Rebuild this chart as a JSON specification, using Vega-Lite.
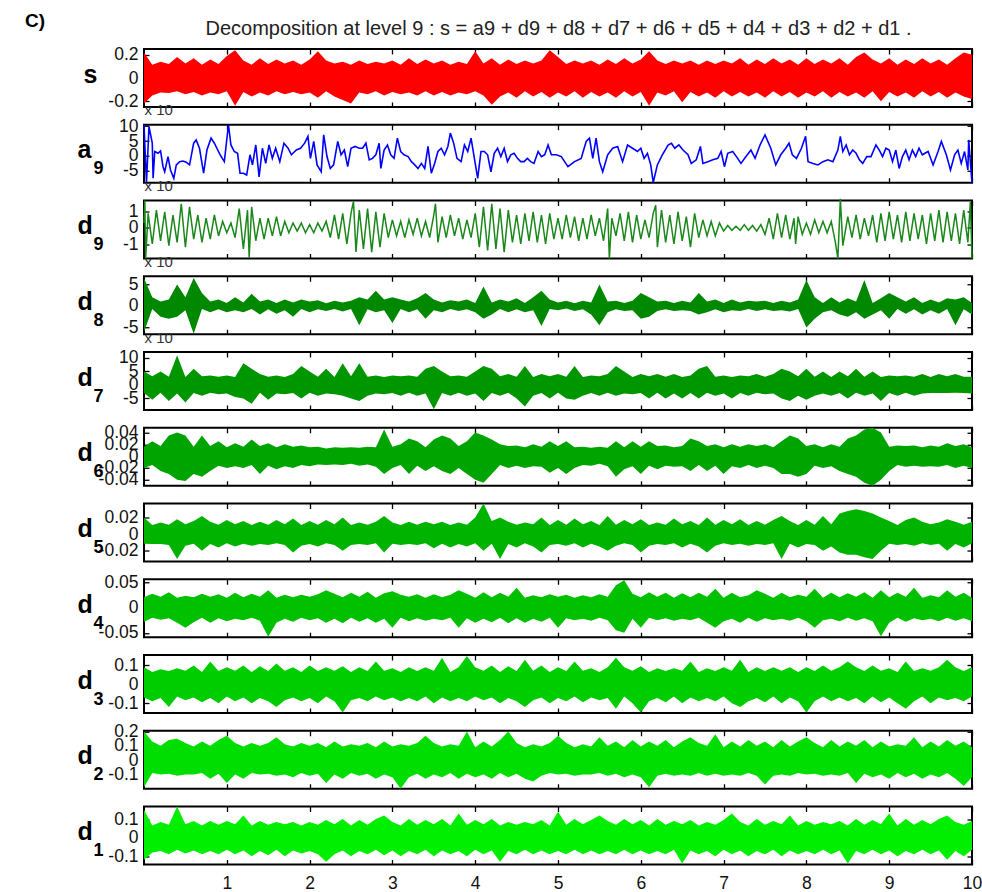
{
"$schema":"https://vega.github.io/schema/vega-lite/v6.json",
"background":"white",
"padding":{"left":24,"top":11,"right":5,"bottom":2},
"spacing":17.75,
"bounds":"flush",
"config":{
 "view":{"stroke":"#000","strokeWidth":2},
 "axis":{"domain":false,"grid":false,"minExtent":0,"tickSize":-5,"tickColor":"#000","tickWidth":1.3,"labelFont":"Liberation Sans","labelFontSize":17.5,"labelColor":"#111","labelPadding":11,"labelOverlap":false,"labelFlush":false,"titleFont":"Liberation Sans","titleColor":"#000"},
 "axisLeft":{"titleAngle":0,"titleAlign":"left","titleBaseline":"alphabetic","titleFontSize":25,"titleFontWeight":"bold","titleX":-67,"titleY":33,"labelBaseline":"middle"},
 "axisRight":{"labels":false,"titleAngle":0,"titleAlign":"left","titleBaseline":"alphabetic","titleFontSize":18,"titleFontWeight":"bold","titleX":-879,"titleY":49},
 "axisTop":{"labels":false,"titleAngle":0,"titleAlign":"left","titleBaseline":"alphabetic","titleFontSize":15,"titleFontWeight":"normal","titleColor":"#333","titleX":0,"titleY":-10},
 "axisBottom":{"labelPadding":15}
},
"datasets":{
"dense":[
{"t":0,"sh":0.22,"sl":-0.22,"h8":6.5,"l8":-6,"h7":5,"l7":-3,"h6":0.016,"l6":-0.02,"h5":0.02,"l5":-0.0115,"h4":0.021,"l4":-0.028,"h3":0.09,"l3":-0.07,"h2":0.2,"l2":-0.19,"h1":0.15,"l1":-0.12},
{"t":0.1,"sh":0.115,"sl":-0.15,"h8":2,"l8":-0.7,"h7":3.2,"l7":-5.5,"h6":0.025,"l6":-0.015,"h5":0.011,"l5":-0.012,"h4":0.028,"l4":-0.02,"h3":0.065,"l3":-0.09,"h2":0.13,"l2":-0.09,"h1":0.065,"l1":-0.08},
{"t":0.2,"sh":0.14,"sl":-0.125,"h8":1,"l8":-2.5,"h7":5,"l7":-2.9,"h6":0.017,"l6":-0.025,"h5":0.014,"l5":-0.012,"h4":0.022,"l4":-0.024,"h3":0.08,"l3":-0.072,"h2":0.1,"l2":-0.1,"h1":0.085,"l1":-0.072},
{"t":0.3,"sh":0.12,"sl":-0.13,"h8":1.5,"l8":-3,"h7":3,"l7":-6,"h6":0.035,"l6":-0.03,"h5":0.0115,"l5":-0.013,"h4":0.031,"l4":-0.021,"h3":0.07,"l3":-0.12,"h2":0.14,"l2":-0.095,"h1":0.07,"l1":-0.09},
{"t":0.4,"sh":0.18,"sl":-0.115,"h8":5,"l8":-2.5,"h7":11,"l7":-3.2,"h6":0.04,"l6":-0.04,"h5":0.018,"l5":-0.03,"h4":0.02,"l4":-0.03,"h3":0.085,"l3":-0.065,"h2":0.15,"l2":-0.11,"h1":0.168,"l1":-0.065},
{"t":0.5,"sh":0.125,"sl":-0.14,"h8":2,"l8":-1,"h7":2.9,"l7":-6.5,"h6":0.035,"l6":-0.042,"h5":0.012,"l5":-0.014,"h4":0.024,"l4":-0.04,"h3":0.072,"l3":-0.085,"h2":0.12,"l2":-0.1,"h1":0.072,"l1":-0.085},
{"t":0.6,"sh":0.17,"sl":-0.12,"h8":6.5,"l8":-6.5,"h7":6,"l7":-3,"h6":0.016,"l6":-0.03,"h5":0.016,"l5":-0.0115,"h4":0.021,"l4":-0.029,"h3":0.1,"l3":-0.07,"h2":0.095,"l2":-0.1,"h1":0.09,"l1":-0.07},
{"t":0.7,"sh":0.115,"sl":-0.15,"h8":3,"l8":-0.7,"h7":3.2,"l7":-4,"h6":0.035,"l6":-0.035,"h5":0.022,"l5":-0.02,"h4":0.028,"l4":-0.02,"h3":0.065,"l3":-0.095,"h2":0.13,"l2":-0.09,"h1":0.065,"l1":-0.09},
{"t":0.8,"sh":0.16,"sl":-0.125,"h8":1,"l8":-1.5,"h7":3.5,"l7":-2.9,"h6":0.017,"l6":-0.025,"h5":0.015,"l5":-0.012,"h4":0.022,"l4":-0.03,"h3":0.12,"l3":-0.072,"h2":0.1,"l2":-0.13,"h1":0.09,"l1":-0.072},
{"t":0.9,"sh":0.12,"sl":-0.14,"h8":1.5,"l8":-0.8,"h7":3,"l7":-3.5,"h6":0.025,"l6":-0.016,"h5":0.0115,"l5":-0.016,"h4":0.027,"l4":-0.021,"h3":0.07,"l3":-0.1,"h2":0.14,"l2":-0.095,"h1":0.07,"l1":-0.09},
{"t":1,"sh":0.19,"sl":-0.115,"h8":0.7,"l8":-1.5,"h7":3.5,"l7":-3.2,"h6":0.015,"l6":-0.02,"h5":0.017,"l5":-0.011,"h4":0.02,"l4":-0.027,"h3":0.09,"l3":-0.065,"h2":0.17,"l2":-0.16,"h1":0.09,"l1":-0.065},
{"t":1.1,"sh":0.24,"sl":-0.24,"h8":2,"l8":-1,"h7":2.9,"l7":-4.5,"h6":0.022,"l6":-0.017,"h5":0.012,"l5":-0.015,"h4":0.03,"l4":-0.022,"h3":0.072,"l3":-0.09,"h2":0.12,"l2":-0.1,"h1":0.072,"l1":-0.09},
{"t":1.2,"sh":0.15,"sl":-0.12,"h8":0.8,"l8":-1.5,"h7":8,"l7":-5,"h6":0.016,"l6":-0.02,"h5":0.016,"l5":-0.0115,"h4":0.021,"l4":-0.025,"h3":0.1,"l3":-0.07,"h2":0.095,"l2":-0.13,"h1":0.12,"l1":-0.07},
{"t":1.3,"sh":0.115,"sl":-0.16,"h8":2.8,"l8":-0.7,"h7":6,"l7":-7,"h6":0.028,"l6":-0.015,"h5":0.011,"l5":-0.014,"h4":0.028,"l4":-0.02,"h3":0.065,"l3":-0.1,"h2":0.12,"l2":-0.09,"h1":0.065,"l1":-0.1},
{"t":1.4,"sh":0.17,"sl":-0.125,"h8":1,"l8":-2,"h7":4,"l7":-2.9,"h6":0.017,"l6":-0.03,"h5":0.015,"l5":-0.012,"h4":0.022,"l4":-0.026,"h3":0.095,"l3":-0.072,"h2":0.1,"l2":-0.1,"h1":0.09,"l1":-0.072},
{"t":1.5,"sh":0.12,"sl":-0.15,"h8":1.5,"l8":-0.8,"h7":3,"l7":-5.5,"h6":0.022,"l6":-0.016,"h5":0.0115,"l5":-0.013,"h4":0.035,"l4":-0.058,"h3":0.07,"l3":-0.09,"h2":0.12,"l2":-0.095,"h1":0.07,"l1":-0.095},
{"t":1.6,"sh":0.16,"sl":-0.115,"h8":0.7,"l8":-1.8,"h7":3.5,"l7":-3.2,"h6":0.015,"l6":-0.022,"h5":0.017,"l5":-0.011,"h4":0.02,"l4":-0.03,"h3":0.11,"l3":-0.12,"h2":0.16,"l2":-0.11,"h1":0.085,"l1":-0.065},
{"t":1.7,"sh":0.125,"sl":-0.14,"h8":1.5,"l8":-1,"h7":2.9,"l7":-3.5,"h6":0.02,"l6":-0.017,"h5":0.012,"l5":-0.013,"h4":0.026,"l4":-0.022,"h3":0.072,"l3":-0.085,"h2":0.11,"l2":-0.1,"h1":0.072,"l1":-0.1},
{"t":1.8,"sh":0.15,"sl":-0.12,"h8":0.8,"l8":-2.5,"h7":4,"l7":-3,"h6":0.016,"l6":-0.02,"h5":0.019,"l5":-0.022,"h4":0.021,"l4":-0.028,"h3":0.09,"l3":-0.07,"h2":0.095,"l2":-0.12,"h1":0.085,"l1":-0.07},
{"t":1.9,"sh":0.115,"sl":-0.14,"h8":1.5,"l8":-0.7,"h7":7,"l7":-5,"h6":0.018,"l6":-0.015,"h5":0.011,"l5":-0.014,"h4":0.026,"l4":-0.02,"h3":0.065,"l3":-0.09,"h2":0.12,"l2":-0.09,"h1":0.065,"l1":-0.085},
{"t":2,"sh":0.16,"sl":-0.125,"h8":1,"l8":-1.5,"h7":5,"l7":-2.9,"h6":0.015,"l6":-0.017,"h5":0.016,"l5":-0.012,"h4":0.022,"l4":-0.025,"h3":0.1,"l3":-0.072,"h2":0.1,"l2":-0.11,"h1":0.085,"l1":-0.072},
{"t":2.1,"sh":0.23,"sl":-0.17,"h8":1.3,"l8":-0.8,"h7":3,"l7":-4,"h6":0.016,"l6":-0.014,"h5":0.0115,"l5":-0.015,"h4":0.027,"l4":-0.021,"h3":0.07,"l3":-0.1,"h2":0.12,"l2":-0.095,"h1":0.07,"l1":-0.09},
{"t":2.2,"sh":0.15,"sl":-0.115,"h8":0.6,"l8":-1.2,"h7":6,"l7":-3.2,"h6":0.013,"l6":-0.015,"h5":0.017,"l5":-0.011,"h4":0.035,"l4":-0.03,"h3":0.09,"l3":-0.065,"h2":0.09,"l2":-0.16,"h1":0.095,"l1":-0.13},
{"t":2.3,"sh":0.125,"sl":-0.16,"h8":1.2,"l8":-0.7,"h7":2.9,"l7":-3.5,"h6":0.015,"l6":-0.014,"h5":0.012,"l5":-0.013,"h4":0.028,"l4":-0.022,"h3":0.072,"l3":-0.09,"h2":0.13,"l2":-0.1,"h1":0.072,"l1":-0.09},
{"t":2.4,"sh":0.14,"sl":-0.19,"h8":0.8,"l8":-1.3,"h7":8,"l7":-4,"h6":0.014,"l6":-0.015,"h5":0.02,"l5":-0.02,"h4":0.021,"l4":-0.031,"h3":0.095,"l3":-0.15,"h2":0.095,"l2":-0.13,"h1":0.1,"l1":-0.07},
{"t":2.5,"sh":0.115,"sl":-0.22,"h8":1.2,"l8":-0.7,"h7":3.2,"l7":-5,"h6":0.015,"l6":-0.013,"h5":0.011,"l5":-0.013,"h4":0.03,"l4":-0.02,"h3":0.065,"l3":-0.085,"h2":0.11,"l2":-0.09,"h1":0.065,"l1":-0.1},
{"t":2.6,"sh":0.15,"sl":-0.125,"h8":2,"l8":-4.5,"h7":8,"l7":-6,"h6":0.014,"l6":-0.016,"h5":0.014,"l5":-0.012,"h4":0.022,"l4":-0.028,"h3":0.09,"l3":-0.072,"h2":0.1,"l2":-0.11,"h1":0.095,"l1":-0.072},
{"t":2.7,"sh":0.12,"sl":-0.14,"h8":1.5,"l8":-0.8,"h7":3,"l7":-4,"h6":0.016,"l6":-0.014,"h5":0.0115,"l5":-0.013,"h4":0.032,"l4":-0.021,"h3":0.07,"l3":-0.09,"h2":0.12,"l2":-0.095,"h1":0.07,"l1":-0.09},
{"t":2.8,"sh":0.14,"sl":-0.115,"h8":3.5,"l8":-1.5,"h7":3.5,"l7":-3.2,"h6":0.015,"l6":-0.018,"h5":0.015,"l5":-0.011,"h4":0.02,"l4":-0.03,"h3":0.12,"l3":-0.065,"h2":0.09,"l2":-0.13,"h1":0.1,"l1":-0.065},
{"t":2.9,"sh":0.125,"sl":-0.15,"h8":1.5,"l8":-1,"h7":2.9,"l7":-3.5,"h6":0.045,"l6":-0.03,"h5":0.022,"l5":-0.022,"h4":0.029,"l4":-0.022,"h3":0.072,"l3":-0.085,"h2":0.13,"l2":-0.1,"h1":0.12,"l1":-0.095},
{"t":3,"sh":0.15,"sl":-0.12,"h8":2,"l8":-4,"h7":3.5,"l7":-3,"h6":0.016,"l6":-0.02,"h5":0.014,"l5":-0.0115,"h4":0.033,"l4":-0.04,"h3":0.085,"l3":-0.07,"h2":0.095,"l2":-0.12,"h1":0.085,"l1":-0.07},
{"t":3.1,"sh":0.115,"sl":-0.14,"h8":1.5,"l8":-0.7,"h7":3.2,"l7":-4,"h6":0.02,"l6":-0.015,"h5":0.011,"l5":-0.013,"h4":0.026,"l4":-0.02,"h3":0.065,"l3":-0.09,"h2":0.11,"l2":-0.2,"h1":0.065,"l1":-0.1},
{"t":3.2,"sh":0.17,"sl":-0.125,"h8":1,"l8":-1.5,"h7":3.5,"l7":-2.9,"h6":0.03,"l6":-0.03,"h5":0.015,"l5":-0.012,"h4":0.022,"l4":-0.027,"h3":0.09,"l3":-0.072,"h2":0.1,"l2":-0.12,"h1":0.1,"l1":-0.072},
{"t":3.3,"sh":0.12,"sl":-0.15,"h8":1.8,"l8":-0.8,"h7":3,"l7":-4,"h6":0.025,"l6":-0.016,"h5":0.0115,"l5":-0.013,"h4":0.027,"l4":-0.021,"h3":0.07,"l3":-0.09,"h2":0.12,"l2":-0.095,"h1":0.07,"l1":-0.09},
{"t":3.4,"sh":0.16,"sl":-0.115,"h8":3,"l8":-3,"h7":6,"l7":-3.2,"h6":0.015,"l6":-0.025,"h5":0.015,"l5":-0.011,"h4":0.02,"l4":-0.026,"h3":0.09,"l3":-0.065,"h2":0.17,"l2":-0.13,"h1":0.095,"l1":-0.065},
{"t":3.5,"sh":0.125,"sl":-0.15,"h8":1.5,"l8":-1,"h7":7,"l7":-9,"h6":0.028,"l6":-0.017,"h5":0.012,"l5":-0.017,"h4":0.027,"l4":-0.022,"h3":0.072,"l3":-0.1,"h2":0.12,"l2":-0.1,"h1":0.072,"l1":-0.1},
{"t":3.6,"sh":0.15,"sl":-0.12,"h8":0.8,"l8":-1.5,"h7":5,"l7":-3,"h6":0.035,"l6":-0.025,"h5":0.015,"l5":-0.0115,"h4":0.021,"l4":-0.025,"h3":0.14,"l3":-0.07,"h2":0.095,"l2":-0.12,"h1":0.1,"l1":-0.07},
{"t":3.7,"sh":0.115,"sl":-0.15,"h8":1.3,"l8":-0.7,"h7":3.2,"l7":-4,"h6":0.03,"l6":-0.03,"h5":0.011,"l5":-0.016,"h4":0.026,"l4":-0.02,"h3":0.065,"l3":-0.09,"h2":0.11,"l2":-0.09,"h1":0.065,"l1":-0.09},
{"t":3.8,"sh":0.14,"sl":-0.125,"h8":1,"l8":-1.2,"h7":3.5,"l7":-2.9,"h6":0.017,"l6":-0.02,"h5":0.014,"l5":-0.012,"h4":0.035,"l4":-0.04,"h3":0.09,"l3":-0.072,"h2":0.1,"l2":-0.13,"h1":0.13,"l1":-0.072},
{"t":3.9,"sh":0.12,"sl":-0.14,"h8":1.5,"l8":-0.8,"h7":3,"l7":-4,"h6":0.025,"l6":-0.03,"h5":0.0115,"l5":-0.015,"h4":0.028,"l4":-0.021,"h3":0.15,"l3":-0.09,"h2":0.2,"l2":-0.095,"h1":0.07,"l1":-0.1},
{"t":4,"sh":0.23,"sl":-0.115,"h8":0.7,"l8":-1.5,"h7":5,"l7":-3.2,"h6":0.04,"l6":-0.04,"h5":0.02,"l5":-0.011,"h4":0.02,"l4":-0.03,"h3":0.09,"l3":-0.065,"h2":0.09,"l2":-0.12,"h1":0.095,"l1":-0.065},
{"t":4.1,"sh":0.125,"sl":-0.15,"h8":4.5,"l8":-3,"h7":7,"l7":-6,"h6":0.035,"l6":-0.045,"h5":0.037,"l5":-0.02,"h4":0.031,"l4":-0.022,"h3":0.072,"l3":-0.085,"h2":0.13,"l2":-0.1,"h1":0.072,"l1":-0.09},
{"t":4.2,"sh":0.17,"sl":-0.23,"h8":0.8,"l8":-2,"h7":6,"l7":-3,"h6":0.028,"l6":-0.03,"h5":0.016,"l5":-0.0115,"h4":0.021,"l4":-0.029,"h3":0.1,"l3":-0.07,"h2":0.095,"l2":-0.13,"h1":0.1,"l1":-0.07},
{"t":4.3,"sh":0.115,"sl":-0.16,"h8":1.5,"l8":-0.7,"h7":3.2,"l7":-4,"h6":0.02,"l6":-0.015,"h5":0.02,"l5":-0.03,"h4":0.03,"l4":-0.02,"h3":0.065,"l3":-0.1,"h2":0.14,"l2":-0.09,"h1":0.065,"l1":-0.13},
{"t":4.4,"sh":0.16,"sl":-0.125,"h8":1,"l8":-1.5,"h7":4,"l7":-2.9,"h6":0.017,"l6":-0.02,"h5":0.015,"l5":-0.012,"h4":0.022,"l4":-0.031,"h3":0.095,"l3":-0.072,"h2":0.2,"l2":-0.12,"h1":0.085,"l1":-0.072},
{"t":4.5,"sh":0.12,"sl":-0.17,"h8":1.8,"l8":-0.8,"h7":3,"l7":-5,"h6":0.018,"l6":-0.016,"h5":0.0115,"l5":-0.016,"h4":0.04,"l4":-0.021,"h3":0.07,"l3":-0.09,"h2":0.12,"l2":-0.095,"h1":0.07,"l1":-0.09},
{"t":4.6,"sh":0.15,"sl":-0.115,"h8":0.7,"l8":-1.5,"h7":7,"l7":-8,"h6":0.015,"l6":-0.02,"h5":0.014,"l5":-0.011,"h4":0.02,"l4":-0.03,"h3":0.13,"l3":-0.12,"h2":0.09,"l2":-0.13,"h1":0.085,"l1":-0.065},
{"t":4.7,"sh":0.125,"sl":-0.16,"h8":2,"l8":-1,"h7":2.9,"l7":-4,"h6":0.02,"l6":-0.017,"h5":0.012,"l5":-0.015,"h4":0.025,"l4":-0.022,"h3":0.072,"l3":-0.085,"h2":0.11,"l2":-0.15,"h1":0.072,"l1":-0.09},
{"t":4.8,"sh":0.15,"sl":-0.12,"h8":3.5,"l8":-4.7,"h7":4,"l7":-3,"h6":0.016,"l6":-0.018,"h5":0.02,"l5":-0.022,"h4":0.021,"l4":-0.028,"h3":0.1,"l3":-0.07,"h2":0.095,"l2":-0.11,"h1":0.095,"l1":-0.07},
{"t":4.9,"sh":0.24,"sl":-0.17,"h8":1.5,"l8":-0.7,"h7":3.2,"l7":-5,"h6":0.025,"l6":-0.028,"h5":0.011,"l5":-0.013,"h4":0.027,"l4":-0.02,"h3":0.065,"l3":-0.1,"h2":0.12,"l2":-0.09,"h1":0.065,"l1":-0.09},
{"t":5,"sh":0.18,"sl":-0.125,"h8":0.8,"l8":-1,"h7":4,"l7":-2.9,"h6":0.017,"l6":-0.02,"h5":0.017,"l5":-0.012,"h4":0.022,"l4":-0.04,"h3":0.09,"l3":-0.072,"h2":0.17,"l2":-0.1,"h1":0.14,"l1":-0.072},
{"t":5.1,"sh":0.12,"sl":-0.16,"h8":1.2,"l8":-0.6,"h7":3,"l7":-5,"h6":0.025,"l6":-0.03,"h5":0.0115,"l5":-0.014,"h4":0.026,"l4":-0.021,"h3":0.07,"l3":-0.09,"h2":0.12,"l2":-0.095,"h1":0.07,"l1":-0.09},
{"t":5.2,"sh":0.15,"sl":-0.115,"h8":0.6,"l8":-1.2,"h7":7,"l7":-5.5,"h6":0.015,"l6":-0.02,"h5":0.019,"l5":-0.011,"h4":0.02,"l4":-0.025,"h3":0.12,"l3":-0.065,"h2":0.09,"l2":-0.11,"h1":0.1,"l1":-0.065},
{"t":5.3,"sh":0.125,"sl":-0.17,"h8":1.2,"l8":-0.8,"h7":2.9,"l7":-4,"h6":0.016,"l6":-0.015,"h5":0.012,"l5":-0.016,"h4":0.025,"l4":-0.022,"h3":0.072,"l3":-0.095,"h2":0.11,"l2":-0.1,"h1":0.072,"l1":-0.09},
{"t":5.4,"sh":0.15,"sl":-0.12,"h8":0.8,"l8":-2,"h7":3.5,"l7":-3,"h6":0.014,"l6":-0.016,"h5":0.016,"l5":-0.0115,"h4":0.021,"l4":-0.026,"h3":0.085,"l3":-0.07,"h2":0.095,"l2":-0.1,"h1":0.095,"l1":-0.07},
{"t":5.5,"sh":0.115,"sl":-0.16,"h8":5,"l8":-4.5,"h7":3.2,"l7":-4,"h6":0.016,"l6":-0.013,"h5":0.011,"l5":-0.015,"h4":0.027,"l4":-0.02,"h3":0.065,"l3":-0.085,"h2":0.16,"l2":-0.09,"h1":0.12,"l1":-0.09},
{"t":5.6,"sh":0.16,"sl":-0.125,"h8":1,"l8":-1.5,"h7":4,"l7":-2.9,"h6":0.014,"l6":-0.017,"h5":0.022,"l5":-0.02,"h4":0.022,"l4":-0.025,"h3":0.09,"l3":-0.072,"h2":0.1,"l2":-0.11,"h1":0.09,"l1":-0.072},
{"t":5.7,"sh":0.12,"sl":-0.17,"h8":1.2,"l8":-0.8,"h7":7,"l7":-4,"h6":0.025,"l6":-0.035,"h5":0.0115,"l5":-0.014,"h4":0.045,"l4":-0.045,"h3":0.14,"l3":-0.13,"h2":0.13,"l2":-0.095,"h1":0.07,"l1":-0.09},
{"t":5.8,"sh":0.17,"sl":-0.115,"h8":0.7,"l8":-1.2,"h7":5,"l7":-3.2,"h6":0.015,"l6":-0.022,"h5":0.017,"l5":-0.011,"h4":0.055,"l4":-0.05,"h3":0.09,"l3":-0.065,"h2":0.09,"l2":-0.12,"h1":0.1,"l1":-0.065},
{"t":5.9,"sh":0.125,"sl":-0.16,"h8":1.2,"l8":-1,"h7":2.9,"l7":-3.5,"h6":0.025,"l6":-0.017,"h5":0.012,"l5":-0.013,"h4":0.028,"l4":-0.022,"h3":0.072,"l3":-0.1,"h2":0.14,"l2":-0.1,"h1":0.072,"l1":-0.09},
{"t":6,"sh":0.16,"sl":-0.12,"h8":3,"l8":-3,"h7":4,"l7":-3,"h6":0.016,"l6":-0.03,"h5":0.018,"l5":-0.022,"h4":0.021,"l4":-0.04,"h3":0.095,"l3":-0.15,"h2":0.095,"l2":-0.12,"h1":0.095,"l1":-0.07},
{"t":6.1,"sh":0.23,"sl":-0.24,"h8":2,"l8":-2.5,"h7":3.2,"l7":-5,"h6":0.025,"l6":-0.016,"h5":0.011,"l5":-0.014,"h4":0.031,"l4":-0.02,"h3":0.065,"l3":-0.09,"h2":0.13,"l2":-0.19,"h1":0.065,"l1":-0.09},
{"t":6.2,"sh":0.15,"sl":-0.125,"h8":1,"l8":-1.2,"h7":4,"l7":-2.9,"h6":0.017,"l6":-0.022,"h5":0.014,"l5":-0.012,"h4":0.022,"l4":-0.025,"h3":0.085,"l3":-0.072,"h2":0.1,"l2":-0.11,"h1":0.1,"l1":-0.072},
{"t":6.3,"sh":0.12,"sl":-0.15,"h8":1.2,"l8":-0.8,"h7":3,"l7":-5,"h6":0.018,"l6":-0.016,"h5":0.0115,"l5":-0.013,"h4":0.03,"l4":-0.021,"h3":0.07,"l3":-0.095,"h2":0.14,"l2":-0.095,"h1":0.07,"l1":-0.09},
{"t":6.4,"sh":0.15,"sl":-0.115,"h8":0.7,"l8":-1.2,"h7":4,"l7":-3.2,"h6":0.015,"l6":-0.018,"h5":0.019,"l5":-0.011,"h4":0.02,"l4":-0.026,"h3":0.085,"l3":-0.065,"h2":0.09,"l2":-0.11,"h1":0.09,"l1":-0.065},
{"t":6.5,"sh":0.125,"sl":-0.21,"h8":1.2,"l8":-1,"h7":2.9,"l7":-5,"h6":0.017,"l6":-0.017,"h5":0.012,"l5":-0.016,"h4":0.029,"l4":-0.022,"h3":0.072,"l3":-0.1,"h2":0.13,"l2":-0.1,"h1":0.072,"l1":-0.14},
{"t":6.6,"sh":0.15,"sl":-0.12,"h8":0.8,"l8":-1.2,"h7":3.5,"l7":-3,"h6":0.03,"l6":-0.025,"h5":0.016,"l5":-0.0115,"h4":0.021,"l4":-0.025,"h3":0.12,"l3":-0.07,"h2":0.16,"l2":-0.11,"h1":0.095,"l1":-0.07},
{"t":6.7,"sh":0.115,"sl":-0.16,"h8":3,"l8":-2,"h7":6,"l7":-5,"h6":0.025,"l6":-0.015,"h5":0.011,"l5":-0.015,"h4":0.03,"l4":-0.02,"h3":0.065,"l3":-0.09,"h2":0.12,"l2":-0.09,"h1":0.065,"l1":-0.09},
{"t":6.8,"sh":0.15,"sl":-0.125,"h8":1,"l8":-1.5,"h7":7,"l7":-2.9,"h6":0.017,"l6":-0.025,"h5":0.02,"l5":-0.022,"h4":0.022,"l4":-0.03,"h3":0.085,"l3":-0.072,"h2":0.1,"l2":-0.11,"h1":0.085,"l1":-0.072},
{"t":6.9,"sh":0.12,"sl":-0.17,"h8":1.5,"l8":-0.8,"h7":3,"l7":-4,"h6":0.02,"l6":-0.016,"h5":0.0115,"l5":-0.014,"h4":0.038,"l4":-0.04,"h3":0.07,"l3":-0.09,"h2":0.18,"l2":-0.095,"h1":0.07,"l1":-0.1},
{"t":7,"sh":0.15,"sl":-0.115,"h8":0.7,"l8":-1.5,"h7":3.5,"l7":-3.2,"h6":0.015,"l6":-0.03,"h5":0.017,"l5":-0.011,"h4":0.02,"l4":-0.027,"h3":0.09,"l3":-0.065,"h2":0.09,"l2":-0.11,"h1":0.095,"l1":-0.065},
{"t":7.1,"sh":0.125,"sl":-0.16,"h8":1.5,"l8":-1,"h7":2.9,"l7":-5,"h6":0.02,"l6":-0.017,"h5":0.012,"l5":-0.013,"h4":0.03,"l4":-0.022,"h3":0.072,"l3":-0.1,"h2":0.13,"l2":-0.1,"h1":0.13,"l1":-0.09},
{"t":7.2,"sh":0.17,"sl":-0.12,"h8":0.8,"l8":-1.2,"h7":3.5,"l7":-3,"h6":0.016,"l6":-0.02,"h5":0.018,"l5":-0.0115,"h4":0.021,"l4":-0.03,"h3":0.13,"l3":-0.12,"h2":0.095,"l2":-0.11,"h1":0.085,"l1":-0.07},
{"t":7.3,"sh":0.115,"sl":-0.16,"h8":1.2,"l8":-0.7,"h7":3.2,"l7":-4,"h6":0.02,"l6":-0.015,"h5":0.011,"l5":-0.014,"h4":0.025,"l4":-0.02,"h3":0.065,"l3":-0.09,"h2":0.14,"l2":-0.09,"h1":0.065,"l1":-0.1},
{"t":7.4,"sh":0.16,"sl":-0.125,"h8":1,"l8":-1.2,"h7":4,"l7":-2.9,"h6":0.017,"l6":-0.02,"h5":0.016,"l5":-0.012,"h4":0.035,"l4":-0.028,"h3":0.09,"l3":-0.072,"h2":0.1,"l2":-0.11,"h1":0.1,"l1":-0.072},
{"t":7.5,"sh":0.12,"sl":-0.17,"h8":1.2,"l8":-0.8,"h7":3,"l7":-3.5,"h6":0.02,"l6":-0.016,"h5":0.0115,"l5":-0.013,"h4":0.028,"l4":-0.021,"h3":0.07,"l3":-0.095,"h2":0.13,"l2":-0.17,"h1":0.07,"l1":-0.09},
{"t":7.6,"sh":0.17,"sl":-0.115,"h8":0.7,"l8":-1.2,"h7":4,"l7":-3.2,"h6":0.015,"l6":-0.02,"h5":0.017,"l5":-0.011,"h4":0.02,"l4":-0.025,"h3":0.09,"l3":-0.065,"h2":0.09,"l2":-0.11,"h1":0.09,"l1":-0.065},
{"t":7.7,"sh":0.125,"sl":-0.16,"h8":1.2,"l8":-1,"h7":6,"l7":-5,"h6":0.025,"l6":-0.03,"h5":0.022,"l5":-0.03,"h4":0.03,"l4":-0.022,"h3":0.072,"l3":-0.1,"h2":0.14,"l2":-0.1,"h1":0.072,"l1":-0.1},
{"t":7.8,"sh":0.16,"sl":-0.12,"h8":0.8,"l8":-1.3,"h7":5,"l7":-6,"h6":0.035,"l6":-0.03,"h5":0.016,"l5":-0.0115,"h4":0.021,"l4":-0.026,"h3":0.09,"l3":-0.07,"h2":0.095,"l2":-0.11,"h1":0.12,"l1":-0.07},
{"t":7.9,"sh":0.115,"sl":-0.17,"h8":1.5,"l8":-0.7,"h7":3.2,"l7":-4,"h6":0.03,"l6":-0.035,"h5":0.011,"l5":-0.016,"h4":0.026,"l4":-0.02,"h3":0.065,"l3":-0.09,"h2":0.13,"l2":-0.09,"h1":0.065,"l1":-0.09},
{"t":8,"sh":0.17,"sl":-0.125,"h8":6,"l8":-5,"h7":6,"l7":-5.5,"h6":0.017,"l6":-0.03,"h5":0.017,"l5":-0.012,"h4":0.022,"l4":-0.027,"h3":0.09,"l3":-0.15,"h2":0.16,"l2":-0.1,"h1":0.09,"l1":-0.072},
{"t":8.1,"sh":0.12,"sl":-0.16,"h8":2,"l8":-3,"h7":3,"l7":-4,"h6":0.02,"l6":-0.016,"h5":0.0115,"l5":-0.013,"h4":0.038,"l4":-0.04,"h3":0.07,"l3":-0.09,"h2":0.12,"l2":-0.095,"h1":0.07,"l1":-0.09},
{"t":8.2,"sh":0.16,"sl":-0.115,"h8":0.7,"l8":-1.5,"h7":5,"l7":-3.2,"h6":0.015,"l6":-0.02,"h5":0.022,"l5":-0.02,"h4":0.02,"l4":-0.025,"h3":0.1,"l3":-0.065,"h2":0.09,"l2":-0.11,"h1":0.085,"l1":-0.065},
{"t":8.3,"sh":0.125,"sl":-0.17,"h8":2,"l8":-1,"h7":2.9,"l7":-4,"h6":0.02,"l6":-0.017,"h5":0.012,"l5":-0.015,"h4":0.03,"l4":-0.022,"h3":0.072,"l3":-0.09,"h2":0.14,"l2":-0.1,"h1":0.072,"l1":-0.09},
{"t":8.4,"sh":0.17,"sl":-0.12,"h8":0.8,"l8":-2,"h7":5,"l7":-3,"h6":0.016,"l6":-0.025,"h5":0.025,"l5":-0.022,"h4":0.021,"l4":-0.027,"h3":0.09,"l3":-0.07,"h2":0.095,"l2":-0.11,"h1":0.09,"l1":-0.07},
{"t":8.5,"sh":0.115,"sl":-0.16,"h8":1.8,"l8":-2.5,"h7":3.2,"l7":-5,"h6":0.03,"l6":-0.03,"h5":0.028,"l5":-0.025,"h4":0.029,"l4":-0.02,"h3":0.12,"l3":-0.09,"h2":0.13,"l2":-0.09,"h1":0.065,"l1":-0.14},
{"t":8.6,"sh":0.18,"sl":-0.125,"h8":1,"l8":-1.5,"h7":6,"l7":-2.9,"h6":0.035,"l6":-0.035,"h5":0.03,"l5":-0.025,"h4":0.022,"l4":-0.026,"h3":0.09,"l3":-0.072,"h2":0.1,"l2":-0.16,"h1":0.1,"l1":-0.072},
{"t":8.7,"sh":0.22,"sl":-0.17,"h8":6,"l8":-3,"h7":3,"l7":-4,"h6":0.045,"l6":-0.045,"h5":0.028,"l5":-0.028,"h4":0.031,"l4":-0.021,"h3":0.07,"l3":-0.1,"h2":0.14,"l2":-0.095,"h1":0.07,"l1":-0.09},
{"t":8.8,"sh":0.16,"sl":-0.115,"h8":0.7,"l8":-2,"h7":5,"l7":-3.2,"h6":0.048,"l6":-0.05,"h5":0.025,"l5":-0.03,"h4":0.02,"l4":-0.027,"h3":0.1,"l3":-0.065,"h2":0.09,"l2":-0.12,"h1":0.095,"l1":-0.065},
{"t":8.9,"sh":0.125,"sl":-0.2,"h8":1.8,"l8":-1,"h7":2.9,"l7":-6,"h6":0.04,"l6":-0.04,"h5":0.02,"l5":-0.02,"h4":0.035,"l4":-0.057,"h3":0.072,"l3":-0.095,"h2":0.13,"l2":-0.1,"h1":0.072,"l1":-0.09},
{"t":9,"sh":0.17,"sl":-0.12,"h8":3,"l8":-3,"h7":3.5,"l7":-3,"h6":0.016,"l6":-0.025,"h5":0.016,"l5":-0.0115,"h4":0.021,"l4":-0.03,"h3":0.085,"l3":-0.07,"h2":0.095,"l2":-0.13,"h1":0.13,"l1":-0.07},
{"t":9.1,"sh":0.115,"sl":-0.16,"h8":2,"l8":-0.7,"h7":3.2,"l7":-4,"h6":0.018,"l6":-0.015,"h5":0.011,"l5":-0.013,"h4":0.03,"l4":-0.02,"h3":0.065,"l3":-0.1,"h2":0.11,"l2":-0.09,"h1":0.065,"l1":-0.1},
{"t":9.2,"sh":0.16,"sl":-0.125,"h8":1,"l8":-1.8,"h7":3.5,"l7":-2.9,"h6":0.017,"l6":-0.018,"h5":0.017,"l5":-0.012,"h4":0.022,"l4":-0.028,"h3":0.12,"l3":-0.13,"h2":0.1,"l2":-0.12,"h1":0.1,"l1":-0.072},
{"t":9.3,"sh":0.12,"sl":-0.17,"h8":2,"l8":-0.8,"h7":3,"l7":-4,"h6":0.018,"l6":-0.016,"h5":0.02,"l5":-0.014,"h4":0.04,"l4":-0.021,"h3":0.07,"l3":-0.09,"h2":0.16,"l2":-0.095,"h1":0.07,"l1":-0.09},
{"t":9.4,"sh":0.17,"sl":-0.115,"h8":0.7,"l8":-2,"h7":4,"l7":-3.2,"h6":0.015,"l6":-0.018,"h5":0.015,"l5":-0.011,"h4":0.02,"l4":-0.025,"h3":0.085,"l3":-0.065,"h2":0.09,"l2":-0.13,"h1":0.095,"l1":-0.065},
{"t":9.5,"sh":0.125,"sl":-0.16,"h8":1.5,"l8":-1,"h7":2.9,"l7":-3,"h6":0.018,"l6":-0.017,"h5":0.012,"l5":-0.013,"h4":0.025,"l4":-0.022,"h3":0.072,"l3":-0.1,"h2":0.13,"l2":-0.1,"h1":0.072,"l1":-0.09},
{"t":9.6,"sh":0.16,"sl":-0.12,"h8":0.8,"l8":-1.8,"h7":4,"l7":-3,"h6":0.016,"l6":-0.018,"h5":0.014,"l5":-0.0115,"h4":0.021,"l4":-0.027,"h3":0.09,"l3":-0.07,"h2":0.095,"l2":-0.12,"h1":0.1,"l1":-0.07},
{"t":9.7,"sh":0.115,"sl":-0.17,"h8":1.8,"l8":-0.7,"h7":3.2,"l7":-3,"h6":0.022,"l6":-0.015,"h5":0.018,"l5":-0.02,"h4":0.035,"l4":-0.02,"h3":0.13,"l3":-0.085,"h2":0.14,"l2":-0.09,"h1":0.12,"l1":-0.12},
{"t":9.8,"sh":0.17,"sl":-0.125,"h8":1.5,"l8":-4.5,"h7":4,"l7":-2.9,"h6":0.017,"l6":-0.02,"h5":0.015,"l5":-0.012,"h4":0.022,"l4":-0.026,"h3":0.09,"l3":-0.072,"h2":0.1,"l2":-0.13,"h1":0.085,"l1":-0.072},
{"t":9.9,"sh":0.22,"sl":-0.16,"h8":2,"l8":-0.8,"h7":3,"l7":-3,"h6":0.02,"l6":-0.016,"h5":0.0115,"l5":-0.016,"h4":0.03,"l4":-0.021,"h3":0.07,"l3":-0.09,"h2":0.13,"l2":-0.18,"h1":0.07,"l1":-0.1},
{"t":10,"sh":0.2,"sl":-0.18,"h8":0.7,"l8":-2,"h7":3,"l7":-3.2,"h6":0.015,"l6":-0.02,"h5":0.015,"l5":-0.011,"h4":0.02,"l4":-0.027,"h3":0.09,"l3":-0.065,"h2":0.09,"l2":-0.12,"h1":0.09,"l1":-0.065}
],
"a9":[
{"t":0,"v":10.5},{"t":0.03,"v":-9},{"t":0.06,"v":9.9},{"t":0.1,"v":4.3},{"t":0.11,"v":-7.5},{"t":0.13,"v":1.5},{"t":0.17,"v":0.9},{"t":0.2,"v":1.7},{"t":0.23,"v":-3.6},{"t":0.25,"v":-5.3},{"t":0.29,"v":-0.2},{"t":0.32,"v":-4.7},{"t":0.36,"v":-7.5},{"t":0.39,"v":-3},{"t":0.43,"v":-1.9},{"t":0.47,"v":-1.7},{"t":0.51,"v":-2.1},{"t":0.55,"v":-3},{"t":0.6,"v":4.3},{"t":0.63,"v":5.4},{"t":0.67,"v":2.6},{"t":0.72,"v":-5.8},{"t":0.76,"v":2},{"t":0.81,"v":6},{"t":0.85,"v":4.3},{"t":0.88,"v":2.6},{"t":0.92,"v":0.4},{"t":0.97,"v":-1.9},{"t":1.02,"v":10.5},{"t":1.05,"v":3.7},{"t":1.09,"v":1.5},{"t":1.13,"v":0.9},{"t":1.16,"v":-5.8},{"t":1.2,"v":-5.8},{"t":1.24,"v":-6.4},{"t":1.28,"v":0.4},{"t":1.31,"v":-3},{"t":1.35,"v":3.7},{"t":1.39,"v":-7},{"t":1.43,"v":2.6},{"t":1.47,"v":-2.5},{"t":1.51,"v":3.7},{"t":1.55,"v":-0.8},{"t":1.59,"v":2.6},{"t":1.64,"v":-1.9},{"t":1.69,"v":4.3},{"t":1.74,"v":2.6},{"t":1.78,"v":0.4},{"t":1.84,"v":2},{"t":1.89,"v":2.6},{"t":1.94,"v":4.3},{"t":1.98,"v":6.6},{"t":2.01,"v":-0.8},{"t":2.05,"v":4.9},{"t":2.09,"v":-3},{"t":2.14,"v":-5.3},{"t":2.17,"v":7.1},{"t":2.21,"v":-0.2},{"t":2.25,"v":-4.2},{"t":2.29,"v":-3},{"t":2.34,"v":4.9},{"t":2.38,"v":0.4},{"t":2.42,"v":2},{"t":2.46,"v":-3.6},{"t":2.5,"v":2.6},{"t":2.55,"v":3.2},{"t":2.6,"v":2.6},{"t":2.64,"v":2.6},{"t":2.68,"v":4.3},{"t":2.72,"v":-1.3},{"t":2.76,"v":-0.8},{"t":2.8,"v":0.4},{"t":2.84,"v":4.3},{"t":2.86,"v":-4.2},{"t":2.9,"v":2},{"t":2.94,"v":3.7},{"t":2.98,"v":0.4},{"t":3.02,"v":-0.8},{"t":3.06,"v":6},{"t":3.1,"v":1.5},{"t":3.14,"v":0.4},{"t":3.19,"v":-0.2},{"t":3.23,"v":-1.9},{"t":3.27,"v":-3},{"t":3.31,"v":-4.2},{"t":3.35,"v":-2.5},{"t":3.39,"v":-4.2},{"t":3.43,"v":3.2},{"t":3.47,"v":-5.8},{"t":3.51,"v":-2.5},{"t":3.55,"v":1.5},{"t":3.59,"v":2.6},{"t":3.63,"v":0.4},{"t":3.67,"v":3.2},{"t":3.7,"v":7.7},{"t":3.74,"v":4.3},{"t":3.78,"v":-0.8},{"t":3.83,"v":-1.9},{"t":3.87,"v":3.7},{"t":3.91,"v":1.5},{"t":3.95,"v":6},{"t":3.99,"v":-0.8},{"t":4.03,"v":-7.5},{"t":4.07,"v":1.5},{"t":4.11,"v":1.5},{"t":4.15,"v":0.4},{"t":4.19,"v":-5.3},{"t":4.23,"v":0.9},{"t":4.27,"v":2.6},{"t":4.31,"v":-0.2},{"t":4.35,"v":2.6},{"t":4.39,"v":-1.9},{"t":4.43,"v":0.4},{"t":4.47,"v":0.9},{"t":4.51,"v":-0.8},{"t":4.55,"v":-1.9},{"t":4.59,"v":-1.9},{"t":4.63,"v":-0.8},{"t":4.67,"v":-1.9},{"t":4.71,"v":-2.5},{"t":4.76,"v":1.5},{"t":4.8,"v":-0.2},{"t":4.84,"v":0.4},{"t":4.88,"v":3.7},{"t":4.92,"v":0.4},{"t":4.98,"v":0.4},
{"t":5.04,"v":-0.2},{"t":5.12,"v":-3.6},{"t":5.2,"v":-1.9},{"t":5.28,"v":-0.8},{"t":5.34,"v":4.9},{"t":5.38,"v":6},{"t":5.42,"v":-0.8},{"t":5.46,"v":6},{"t":5.5,"v":-1.9},{"t":5.54,"v":-5.3},{"t":5.6,"v":0.4},{"t":5.66,"v":2.6},{"t":5.72,"v":3.2},{"t":5.78,"v":-1.9},{"t":5.84,"v":3.7},{"t":5.9,"v":2.6},{"t":5.96,"v":1.5},{"t":6,"v":2.6},{"t":6.04,"v":-0.8},{"t":6.08,"v":0.9},{"t":6.12,"v":-3},{"t":6.15,"v":-8.9},{"t":6.2,"v":-3},{"t":6.26,"v":0.4},{"t":6.33,"v":3.7},{"t":6.37,"v":4.3},{"t":6.41,"v":2.6},{"t":6.46,"v":3.7},{"t":6.51,"v":2},{"t":6.57,"v":0.4},{"t":6.61,"v":-2.5},{"t":6.67,"v":-1.3},{"t":6.72,"v":3.2},{"t":6.75,"v":-2.5},{"t":6.81,"v":-1.9},{"t":6.87,"v":-1.3},{"t":6.93,"v":-0.8},{"t":6.97,"v":1.5},{"t":7.01,"v":-3.6},{"t":7.05,"v":0.9},{"t":7.11,"v":1.5},{"t":7.17,"v":-0.8},{"t":7.21,"v":-2.5},{"t":7.27,"v":-0.2},{"t":7.33,"v":2},{"t":7.38,"v":-0.8},{"t":7.44,"v":3.7},{"t":7.5,"v":7.1},{"t":7.57,"v":2.6},{"t":7.63,"v":-3},{"t":7.69,"v":0.4},{"t":7.75,"v":2.6},{"t":7.79,"v":4.3},{"t":7.83,"v":0.4},{"t":7.88,"v":-0.8},{"t":7.94,"v":2.6},{"t":7.99,"v":6.6},{"t":8.02,"v":-1.9},{"t":8.08,"v":-2.5},{"t":8.14,"v":-3},{"t":8.2,"v":-1.9},{"t":8.26,"v":-1.3},{"t":8.32,"v":-1.9},{"t":8.38,"v":2},{"t":8.41,"v":6.6},{"t":8.44,"v":1.5},{"t":8.48,"v":3.7},{"t":8.52,"v":0.4},{"t":8.56,"v":2},{"t":8.6,"v":0.9},{"t":8.64,"v":-1.3},{"t":8.68,"v":-2.5},{"t":8.73,"v":-0.2},{"t":8.78,"v":-0.2},{"t":8.84,"v":3.7},{"t":8.88,"v":2},{"t":8.92,"v":-0.2},{"t":8.96,"v":2.6},{"t":9,"v":2},{"t":9.04,"v":-1.9},{"t":9.08,"v":2},{"t":9.12,"v":-4.2},{"t":9.16,"v":-0.2},{"t":9.2,"v":2},{"t":9.24,"v":-1.3},{"t":9.28,"v":2},{"t":9.32,"v":-0.2},{"t":9.36,"v":2.6},{"t":9.4,"v":0.4},{"t":9.47,"v":1.5},{"t":9.53,"v":-3},{"t":9.59,"v":1.5},{"t":9.63,"v":4.9},{"t":9.69,"v":0.4},{"t":9.74,"v":-4.7},{"t":9.79,"v":0.4},{"t":9.83,"v":2},{"t":9.87,"v":-2.5},{"t":9.91,"v":1.5},{"t":9.95,"v":-4.7},{"t":9.96,"v":5.4},{"t":9.98,"v":-2},{"t":10,"v":-9}
],
"d9":[
{"t":0,"v":0.3},{"t":0.01,"v":1.7},{"t":0.02,"v":-1.9},{"t":0.05,"v":0.9},{"t":0.1,"v":-1},{"t":0.15,"v":1.1},{"t":0.2,"v":-0.8},{"t":0.25,"v":1},{"t":0.3,"v":-1.1},{"t":0.35,"v":0.8},{"t":0.4,"v":-0.9},{"t":0.45,"v":1.5},{"t":0.5,"v":-1.2},{"t":0.55,"v":1.3},{"t":0.6,"v":-0.7},{"t":0.65,"v":0.8},{"t":0.7,"v":-0.9},{"t":0.75,"v":0.6},{"t":0.8,"v":-0.7},{"t":0.85,"v":0.8},{"t":0.9,"v":-0.5},{"t":0.95,"v":0.4},{"t":1,"v":-0.3},{"t":1.05,"v":0.3},{"t":1.1,"v":-0.6},{"t":1.15,"v":1.2},{"t":1.2,"v":-1.3},{"t":1.25,"v":1.1},{"t":1.27,"v":-1.85},{"t":1.3,"v":1.3},{"t":1.35,"v":-0.8},{"t":1.4,"v":0.6},{"t":1.45,"v":-0.7},{"t":1.5,"v":0.6},{"t":1.55,"v":-0.5},{"t":1.6,"v":0.7},{"t":1.65,"v":-0.5},{"t":1.7,"v":0.4},{"t":1.75,"v":-0.3},{"t":1.8,"v":0.3},{"t":1.85,"v":-0.2},{"t":1.9,"v":0.3},{"t":1.95,"v":-0.3},{"t":2,"v":0.2},{"t":2.05,"v":-0.3},{"t":2.1,"v":0.3},{"t":2.15,"v":-0.2},{"t":2.2,"v":0.4},{"t":2.25,"v":-0.6},{"t":2.3,"v":0.8},{"t":2.35,"v":-0.7},{"t":2.4,"v":0.9},{"t":2.45,"v":-1},{"t":2.5,"v":0.9},{"t":2.53,"v":1.65},{"t":2.56,"v":-1.5},{"t":2.6,"v":1.1},{"t":2.65,"v":-1.3},{"t":2.7,"v":1.2},{"t":2.75,"v":-1.5},{"t":2.8,"v":1},{"t":2.85,"v":-1.2},{"t":2.9,"v":0.9},{"t":2.95,"v":-0.6},{"t":3,"v":0.5},{"t":3.05,"v":-0.5},{"t":3.1,"v":0.4},{"t":3.15,"v":-0.6},{"t":3.2,"v":0.5},{"t":3.25,"v":-0.4},{"t":3.3,"v":0.6},{"t":3.35,"v":-0.5},{"t":3.4,"v":0.4},{"t":3.45,"v":-0.6},{"t":3.5,"v":0.8},{"t":3.52,"v":1.5},{"t":3.55,"v":-0.9},{"t":3.6,"v":0.7},{"t":3.65,"v":-0.6},{"t":3.7,"v":0.8},{"t":3.75,"v":-0.5},{"t":3.8,"v":0.6},{"t":3.85,"v":-0.7},{"t":3.9,"v":0.5},{"t":3.95,"v":-0.6},{"t":4,"v":0.9},{"t":4.05,"v":-1.2},{"t":4.1,"v":1.3},{"t":4.15,"v":-1.4},{"t":4.2,"v":1.5},{"t":4.25,"v":-1.3},{"t":4.3,"v":1.2},{"t":4.35,"v":-1.5},{"t":4.4,"v":1.1},{"t":4.45,"v":-0.9},{"t":4.5,"v":0.8},{"t":4.55,"v":-1},{"t":4.6,"v":0.9},{"t":4.65,"v":-0.8},{"t":4.7,"v":1},{"t":4.75,"v":-0.9},{"t":4.8,"v":0.8},{"t":4.85,"v":-1},{"t":4.9,"v":0.9},{"t":4.95,"v":-0.7},{"t":5,"v":0.6},{"t":5.05,"v":-0.7},{"t":5.1,"v":0.8},{"t":5.15,"v":-0.6},{"t":5.2,"v":0.7},{"t":5.25,"v":-0.8},{"t":5.3,"v":0.6},{"t":5.35,"v":-0.7},{"t":5.4,"v":0.8},{"t":5.45,"v":-0.5},{"t":5.5,"v":0.6},{"t":5.55,"v":-0.8},{"t":5.6,"v":1.2},{"t":5.62,"v":-1.9},{"t":5.65,"v":0.6},{"t":5.7,"v":-0.5},{"t":5.75,"v":0.9},{"t":5.8,"v":-0.8},{"t":5.85,"v":1},{"t":5.9,"v":-0.9},{"t":5.95,"v":0.8},{"t":6,"v":-0.7},{"t":6.05,"v":0.5},{"t":6.1,"v":-0.6},{"t":6.15,"v":0.9},{"t":6.18,"v":1.4},{"t":6.2,"v":-1.2},{"t":6.25,"v":1.1},{"t":6.3,"v":-0.9},{"t":6.35,"v":0.8},{"t":6.4,"v":-1},{"t":6.45,"v":1},{"t":6.5,"v":-0.8},{"t":6.55,"v":0.7},{"t":6.6,"v":-1.2},{"t":6.65,"v":0.9},{"t":6.7,"v":-0.6},{"t":6.75,"v":0.5},{"t":6.8,"v":-0.5},{"t":6.85,"v":0.4},{"t":6.9,"v":-0.5},{"t":6.95,"v":0.3},{"t":7,"v":-0.2},{"t":7.05,"v":0.15},{"t":7.1,"v":-0.15},{"t":7.15,"v":0.1},{"t":7.2,"v":-0.15},{"t":7.25,"v":0.2},{"t":7.3,"v":-0.15},{"t":7.35,"v":0.15},{"t":7.4,"v":-0.2},{"t":7.45,"v":0.2},{"t":7.5,"v":-0.4},{"t":7.55,"v":0.6},{"t":7.6,"v":-0.7},{"t":7.65,"v":0.9},{"t":7.7,"v":-0.6},{"t":7.75,"v":0.8},{"t":7.8,"v":-0.7},{"t":7.85,"v":0.6},{"t":7.87,"v":-1},{"t":7.9,"v":0.7},{"t":7.95,"v":-0.4},{"t":8,"v":0.3},{"t":8.05,"v":-0.4},{"t":8.1,"v":0.5},{"t":8.15,"v":-0.3},{"t":8.2,"v":0.4},{"t":8.25,"v":-0.3},{"t":8.3,"v":0.4},{"t":8.35,"v":-0.9},{"t":8.38,"v":-1.9},{"t":8.41,"v":1.8},{"t":8.44,"v":-1.1},{"t":8.5,"v":0.7},{"t":8.55,"v":-0.6},{"t":8.6,"v":0.8},{"t":8.65,"v":-0.7},{"t":8.7,"v":0.6},{"t":8.75,"v":-0.5},{"t":8.8,"v":0.8},{"t":8.85,"v":-0.9},{"t":8.9,"v":0.9},{"t":8.95,"v":-0.8},{"t":9,"v":1},{"t":9.05,"v":-0.7},{"t":9.1,"v":0.8},{"t":9.15,"v":-0.9},{"t":9.2,"v":1},{"t":9.25,"v":-0.8},{"t":9.3,"v":0.9},{"t":9.35,"v":-0.7},{"t":9.4,"v":0.8},{"t":9.45,"v":-1},{"t":9.5,"v":0.9},{"t":9.55,"v":-0.8},{"t":9.6,"v":1.1},{"t":9.65,"v":-0.9},{"t":9.7,"v":1},{"t":9.75,"v":-0.8},{"t":9.8,"v":0.9},{"t":9.85,"v":-1},{"t":9.9,"v":1.1},{"t":9.95,"v":-0.9},{"t":9.98,"v":1.6},{"t":10,"v":-1.9}
]
},
"vconcat":[
{"height":58,"width":828,
 "title":{"text":"C)","anchor":"start","frame":"group","dx":-119,"dy":13,"offset":0,"fontSize":19,"fontWeight":"bold","font":"Liberation Sans","color":"#000"},
 "layer":[
  {"data":{"name":"dense"},"mark":{"type":"area","color":"#ff0000"},
   "encoding":{"x":{"field":"t","type":"quantitative","scale":{"domain":[0,10],"nice":false,"zero":false},"axis":{"orient":"bottom","values":[1,2,3,4,5,6,7,8,9,10],"labels":false,"title":null}},
    "y":{"field":"sh","type":"quantitative","scale":{"domain":[-0.25,0.25],"nice":false,"zero":false},"axis":{"values":[-0.2,0,0.2],"labelExpr":"''+datum.value","title":"s","titleX":-61}},
    "y2":{"field":"sl"}}},
  {"data":{"name":"dense"},"mark":{"type":"area","opacity":0},
   "encoding":{"x":{"field":"t","type":"quantitative","scale":{"domain":[0,10],"nice":false,"zero":false},"axis":{"orient":"top","values":[1,2,3,4,5,6,7,8,9,10],"title":"Decomposition at level 9 : s = a9 + d9 + d8 + d7 + d6 + d5 + d4 + d3 + d2 + d1 .","titleX":414,"titleY":-15,"titleAlign":"center","titleFontSize":20,"titleColor":"#222"}},
    "y":{"field":"sh","type":"quantitative","scale":{"domain":[-0.25,0.25],"nice":false,"zero":false},"axis":{"orient":"right","values":[-0.2,0,0.2],"title":null}},
    "y2":{"field":"sl"}}}
 ],
 "resolve":{"axis":{"x":"independent","y":"independent"}}},
{"height":58,"width":828,
 "layer":[
  {"data":{"name":"a9"},"mark":{"type":"line","color":"#0000ff","strokeWidth":1.6},
   "encoding":{"x":{"field":"t","type":"quantitative","scale":{"domain":[0,10],"nice":false,"zero":false},"axis":{"orient":"bottom","values":[1,2,3,4,5,6,7,8,9,10],"labels":false,"title":null}},
    "y":{"field":"v","type":"quantitative","scale":{"domain":[-9,10.5],"nice":false,"zero":false},"axis":{"values":[-5,0,5,10],"labelExpr":"''+datum.value","title":"a"}}}},
  {"data":{"name":"a9"},"mark":{"type":"line","opacity":0},
   "encoding":{"x":{"field":"t","type":"quantitative","scale":{"domain":[0,10],"nice":false,"zero":false},"axis":{"orient":"top","values":[1,2,3,4,5,6,7,8,9,10],"title":"x 10"}},
    "y":{"field":"v","type":"quantitative","scale":{"domain":[-9,10.5],"nice":false,"zero":false},"axis":{"orient":"right","values":[-5,0,5,10],"title":"9"}}}}
 ],
 "resolve":{"axis":{"x":"independent","y":"independent"}}},
{"height":58,"width":828,
 "layer":[
  {"data":{"name":"d9"},"mark":{"type":"line","color":"#1a871a","strokeWidth":1.5},
   "encoding":{"x":{"field":"t","type":"quantitative","scale":{"domain":[0,10],"nice":false,"zero":false},"axis":{"orient":"bottom","values":[1,2,3,4,5,6,7,8,9,10],"labels":false,"title":null}},
    "y":{"field":"v","type":"quantitative","scale":{"domain":[-1.9,1.7],"nice":false,"zero":false},"axis":{"values":[-1,0,1],"labelExpr":"''+datum.value","title":"d"}}}},
  {"data":{"name":"d9"},"mark":{"type":"line","opacity":0},
   "encoding":{"x":{"field":"t","type":"quantitative","scale":{"domain":[0,10],"nice":false,"zero":false},"axis":{"orient":"top","values":[1,2,3,4,5,6,7,8,9,10],"title":"x 10"}},
    "y":{"field":"v","type":"quantitative","scale":{"domain":[-1.9,1.7],"nice":false,"zero":false},"axis":{"orient":"right","values":[-1,0,1],"title":"9"}}}}
 ],
 "resolve":{"axis":{"x":"independent","y":"independent"}}},
{"height":58,"width":828,
 "layer":[
  {"data":{"name":"dense"},"mark":{"type":"area","color":"#008800"},
   "encoding":{"x":{"field":"t","type":"quantitative","scale":{"domain":[0,10],"nice":false,"zero":false},"axis":{"orient":"bottom","values":[1,2,3,4,5,6,7,8,9,10],"labels":false,"title":null}},
    "y":{"field":"h8","type":"quantitative","scale":{"domain":[-6.6,6.9],"nice":false,"zero":false},"axis":{"values":[-5,0,5],"labelExpr":"''+datum.value","title":"d"}},
    "y2":{"field":"l8"}}},
  {"data":{"name":"dense"},"mark":{"type":"area","opacity":0},
   "encoding":{"x":{"field":"t","type":"quantitative","scale":{"domain":[0,10],"nice":false,"zero":false},"axis":{"orient":"top","values":[1,2,3,4,5,6,7,8,9,10],"title":"x 10"}},
    "y":{"field":"h8","type":"quantitative","scale":{"domain":[-6.6,6.9],"nice":false,"zero":false},"axis":{"orient":"right","values":[-5,0,5],"title":"8"}},
    "y2":{"field":"l8"}}}
 ],
 "resolve":{"axis":{"x":"independent","y":"independent"}}},
{"height":58,"width":828,
 "layer":[
  {"data":{"name":"dense"},"mark":{"type":"area","color":"#009600"},
   "encoding":{"x":{"field":"t","type":"quantitative","scale":{"domain":[0,10],"nice":false,"zero":false},"axis":{"orient":"bottom","values":[1,2,3,4,5,6,7,8,9,10],"labels":false,"title":null}},
    "y":{"field":"h7","type":"quantitative","scale":{"domain":[-9.3,12.2],"nice":false,"zero":false},"axis":{"values":[-5,0,5,10],"labelExpr":"''+datum.value","title":"d"}},
    "y2":{"field":"l7"}}},
  {"data":{"name":"dense"},"mark":{"type":"area","opacity":0},
   "encoding":{"x":{"field":"t","type":"quantitative","scale":{"domain":[0,10],"nice":false,"zero":false},"axis":{"orient":"top","values":[1,2,3,4,5,6,7,8,9,10],"title":"x 10"}},
    "y":{"field":"h7","type":"quantitative","scale":{"domain":[-9.3,12.2],"nice":false,"zero":false},"axis":{"orient":"right","values":[-5,0,5,10],"title":"7"}},
    "y2":{"field":"l7"}}}
 ],
 "resolve":{"axis":{"x":"independent","y":"independent"}}},
{"height":58,"width":828,
 "layer":[
  {"data":{"name":"dense"},"mark":{"type":"area","color":"#00a400"},
   "encoding":{"x":{"field":"t","type":"quantitative","scale":{"domain":[0,10],"nice":false,"zero":false},"axis":{"orient":"bottom","values":[1,2,3,4,5,6,7,8,9,10],"labels":false,"title":null}},
    "y":{"field":"h6","type":"quantitative","scale":{"domain":[-0.05,0.048],"nice":false,"zero":false},"axis":{"values":[-0.04,-0.02,0,0.02,0.04],"labelExpr":"''+datum.value","title":"d"}},
    "y2":{"field":"l6"}}},
  {"data":{"name":"dense"},"mark":{"type":"area","opacity":0},
   "encoding":{"x":{"field":"t","type":"quantitative","scale":{"domain":[0,10],"nice":false,"zero":false},"axis":{"orient":"top","values":[1,2,3,4,5,6,7,8,9,10],"title":null}},
    "y":{"field":"h6","type":"quantitative","scale":{"domain":[-0.05,0.048],"nice":false,"zero":false},"axis":{"orient":"right","values":[-0.04,-0.02,0,0.02,0.04],"title":"6"}},
    "y2":{"field":"l6"}}}
 ],
 "resolve":{"axis":{"x":"independent","y":"independent"}}},
{"height":58,"width":828,
 "layer":[
  {"data":{"name":"dense"},"mark":{"type":"area","color":"#00b300"},
   "encoding":{"x":{"field":"t","type":"quantitative","scale":{"domain":[0,10],"nice":false,"zero":false},"axis":{"orient":"bottom","values":[1,2,3,4,5,6,7,8,9,10],"labels":false,"title":null}},
    "y":{"field":"h5","type":"quantitative","scale":{"domain":[-0.033,0.037],"nice":false,"zero":false},"axis":{"values":[-0.02,0,0.02],"labelExpr":"''+datum.value","title":"d"}},
    "y2":{"field":"l5"}}},
  {"data":{"name":"dense"},"mark":{"type":"area","opacity":0},
   "encoding":{"x":{"field":"t","type":"quantitative","scale":{"domain":[0,10],"nice":false,"zero":false},"axis":{"orient":"top","values":[1,2,3,4,5,6,7,8,9,10],"title":null}},
    "y":{"field":"h5","type":"quantitative","scale":{"domain":[-0.033,0.037],"nice":false,"zero":false},"axis":{"orient":"right","values":[-0.02,0,0.02],"title":"5"}},
    "y2":{"field":"l5"}}}
 ],
 "resolve":{"axis":{"x":"independent","y":"independent"}}},
{"height":58,"width":828,
 "layer":[
  {"data":{"name":"dense"},"mark":{"type":"area","color":"#00c000"},
   "encoding":{"x":{"field":"t","type":"quantitative","scale":{"domain":[0,10],"nice":false,"zero":false},"axis":{"orient":"bottom","values":[1,2,3,4,5,6,7,8,9,10],"labels":false,"title":null}},
    "y":{"field":"h4","type":"quantitative","scale":{"domain":[-0.059,0.057],"nice":false,"zero":false},"axis":{"values":[-0.05,0,0.05],"labelExpr":"''+datum.value","title":"d"}},
    "y2":{"field":"l4"}}},
  {"data":{"name":"dense"},"mark":{"type":"area","opacity":0},
   "encoding":{"x":{"field":"t","type":"quantitative","scale":{"domain":[0,10],"nice":false,"zero":false},"axis":{"orient":"top","values":[1,2,3,4,5,6,7,8,9,10],"title":null}},
    "y":{"field":"h4","type":"quantitative","scale":{"domain":[-0.059,0.057],"nice":false,"zero":false},"axis":{"orient":"right","values":[-0.05,0,0.05],"title":"4"}},
    "y2":{"field":"l4"}}}
 ],
 "resolve":{"axis":{"x":"independent","y":"independent"}}},
{"height":58,"width":828,
 "layer":[
  {"data":{"name":"dense"},"mark":{"type":"area","color":"#00cd00"},
   "encoding":{"x":{"field":"t","type":"quantitative","scale":{"domain":[0,10],"nice":false,"zero":false},"axis":{"orient":"bottom","values":[1,2,3,4,5,6,7,8,9,10],"labels":false,"title":null}},
    "y":{"field":"h3","type":"quantitative","scale":{"domain":[-0.152,0.155],"nice":false,"zero":false},"axis":{"values":[-0.1,0,0.1],"labelExpr":"''+datum.value","title":"d"}},
    "y2":{"field":"l3"}}},
  {"data":{"name":"dense"},"mark":{"type":"area","opacity":0},
   "encoding":{"x":{"field":"t","type":"quantitative","scale":{"domain":[0,10],"nice":false,"zero":false},"axis":{"orient":"top","values":[1,2,3,4,5,6,7,8,9,10],"title":null}},
    "y":{"field":"h3","type":"quantitative","scale":{"domain":[-0.152,0.155],"nice":false,"zero":false},"axis":{"orient":"right","values":[-0.1,0,0.1],"title":"3"}},
    "y2":{"field":"l3"}}}
 ],
 "resolve":{"axis":{"x":"independent","y":"independent"}}},
{"height":58,"width":828,
 "layer":[
  {"data":{"name":"dense"},"mark":{"type":"area","color":"#00dd00"},
   "encoding":{"x":{"field":"t","type":"quantitative","scale":{"domain":[0,10],"nice":false,"zero":false},"axis":{"orient":"bottom","values":[1,2,3,4,5,6,7,8,9,10],"labels":false,"title":null}},
    "y":{"field":"h2","type":"quantitative","scale":{"domain":[-0.2,0.205],"nice":false,"zero":false},"axis":{"values":[-0.1,0,0.1,0.2],"labelExpr":"''+datum.value","title":"d"}},
    "y2":{"field":"l2"}}},
  {"data":{"name":"dense"},"mark":{"type":"area","opacity":0},
   "encoding":{"x":{"field":"t","type":"quantitative","scale":{"domain":[0,10],"nice":false,"zero":false},"axis":{"orient":"top","values":[1,2,3,4,5,6,7,8,9,10],"title":null}},
    "y":{"field":"h2","type":"quantitative","scale":{"domain":[-0.2,0.205],"nice":false,"zero":false},"axis":{"orient":"right","values":[-0.1,0,0.1,0.2],"title":"2"}},
    "y2":{"field":"l2"}}}
 ],
 "resolve":{"axis":{"x":"independent","y":"independent"}}},
{"height":58,"width":828,
 "layer":[
  {"data":{"name":"dense"},"mark":{"type":"area","color":"#00ee00"},
   "encoding":{"x":{"field":"t","type":"quantitative","scale":{"domain":[0,10],"nice":false,"zero":false},"axis":{"orient":"bottom","values":[1,2,3,4,5,6,7,8,9,10],"labels":true,"labelExpr":"''+datum.value","title":null}},
    "y":{"field":"h1","type":"quantitative","scale":{"domain":[-0.145,0.168],"nice":false,"zero":false},"axis":{"values":[-0.1,0,0.1],"labelExpr":"''+datum.value","title":"d"}},
    "y2":{"field":"l1"}}},
  {"data":{"name":"dense"},"mark":{"type":"area","opacity":0},
   "encoding":{"x":{"field":"t","type":"quantitative","scale":{"domain":[0,10],"nice":false,"zero":false},"axis":{"orient":"top","values":[1,2,3,4,5,6,7,8,9,10],"title":null}},
    "y":{"field":"h1","type":"quantitative","scale":{"domain":[-0.145,0.168],"nice":false,"zero":false},"axis":{"orient":"right","values":[-0.1,0,0.1],"title":"1"}},
    "y2":{"field":"l1"}}}
 ],
 "resolve":{"axis":{"x":"independent","y":"independent"}}}
]
}
